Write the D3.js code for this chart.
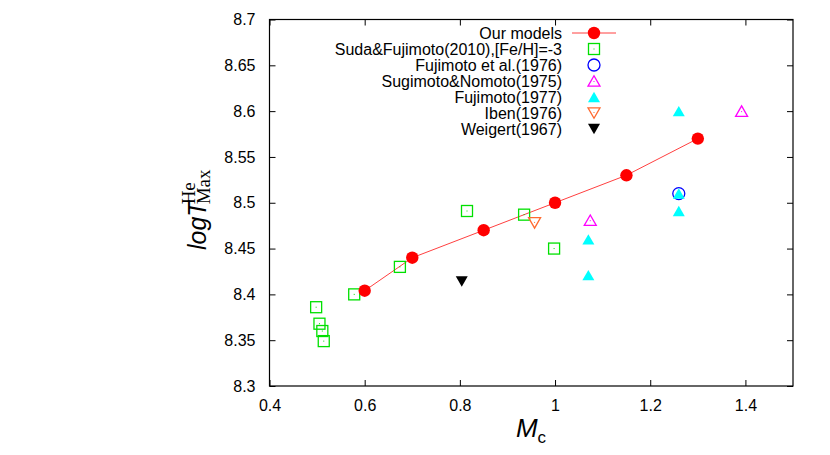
<!DOCTYPE html>
<html><head><meta charset="utf-8">
<script src="https://cdn.jsdelivr.net/npm/d3@7"></script>
<style>body{margin:0;background:#fff}svg{display:block}</style>
</head><body>
<svg id="c" width="830" height="455"></svg>
<script>
const xTicks = [0.4, 0.6, 0.8, 1.0, 1.2, 1.4];
const yTicks = [8.3, 8.35, 8.4, 8.45, 8.5, 8.55, 8.6, 8.65, 8.7];
const ourModelsM = [0.6, 0.7, 0.85, 1.0, 1.15, 1.3];
const ourModelsT = [8.404, 8.44, 8.47, 8.5, 8.53, 8.57];
const sudaM = [0.498, 0.505, 0.511, 0.514, 0.578, 0.674, 0.815, 0.935, 0.998];
const sudaT = [8.386, 8.368, 8.360, 8.349, 8.400, 8.430, 8.491, 8.487, 8.450];
const fuji76M = [1.26];
const fuji76T = [8.51];
const sugiM = [1.074, 1.392];
const sugiT = [8.481, 8.600];
const fuji77M = [1.07, 1.07, 1.26, 1.26, 1.26];
const fuji77T = [8.460, 8.421, 8.600, 8.510, 8.491];
const ibenM = [0.957];
const ibenT = [8.478];
const weigM = [0.804];
const weigT = [8.414];
const legendLabels = ["Our models", "Suda&Fujimoto(2010),[Fe/H]=-3", "Fujimoto et al.(1976)",
  "Sugimoto&Nomoto(1975)", "Fujimoto(1977)", "Iben(1976)", "Weigert(1967)"];

const svg = d3.select("#c");
const L = 269.5, R = 793, T = 19.5, B = 386;
const x = d3.scaleLinear().domain([0.4, 1.5]).range([L, R]);
const y = d3.scaleLinear().domain([8.3, 8.7]).range([B, T]);
const font = "'Liberation Sans', Arial, sans-serif";
const serif = "'Liberation Serif', 'Times New Roman', serif";

// axes with inward ticks
const tl = 6;
svg.append("g").attr("transform", `translate(0,${B})`)
  .call(d3.axisBottom(x).tickValues(xTicks).tickSize(-tl).tickPadding(tl + 8).tickFormat(d3.format("")))
  .call(g => g.select(".domain").remove());
svg.append("g").attr("transform", `translate(0,${T})`)
  .call(d3.axisTop(x).tickValues(xTicks).tickSize(-tl).tickFormat(""))
  .call(g => g.select(".domain").remove());
svg.append("g").attr("transform", `translate(${L},0)`)
  .call(d3.axisLeft(y).tickValues(yTicks).tickSize(-tl).tickPadding(tl + 8).tickFormat(d3.format("")))
  .call(g => g.select(".domain").remove());
svg.append("g").attr("transform", `translate(${R},0)`)
  .call(d3.axisRight(y).tickValues(yTicks).tickSize(-tl).tickFormat(""))
  .call(g => g.select(".domain").remove());
svg.selectAll(".tick line").attr("stroke", "#000").attr("stroke-width", 1);
svg.selectAll(".tick text").attr("font-family", font).attr("font-size", 16).attr("fill", "#000");

svg.append("rect").attr("x", L).attr("y", T).attr("width", R - L).attr("height", B - T)
  .attr("fill", "none").attr("stroke", "#000").attr("stroke-width", 1.2);

// series
const tri = (cx, cy, s, down) => {
  const h = s * 0.87, w = s / 2;
  return down ? `M${cx - w},${cy - h / 2}L${cx + w},${cy - h / 2}L${cx},${cy + h / 2}Z`
              : `M${cx - w},${cy + h / 2}L${cx + w},${cy + h / 2}L${cx},${cy - h / 2}Z`;
};
const zip = (a, b) => a.map((v, i) => [v, b[i]]);

const line = d3.line().x(d => x(d[0])).y(d => y(d[1]));
svg.append("path").datum(zip(ourModelsM, ourModelsT)).attr("d", line)
  .attr("fill", "none").attr("stroke", "#ff4040").attr("stroke-width", 1);

function drawSym(g, type, cx, cy) {
  if (type === "red") {
    g.append("circle").attr("cx", cx).attr("cy", cy).attr("r", 6.2).attr("fill", "#ff0000");
  } else if (type === "square") {
    g.append("rect").attr("x", cx - 5.5).attr("y", cy - 5.5).attr("width", 11).attr("height", 11)
      .attr("fill", "none").attr("stroke", "#00e000").attr("stroke-width", 1.3);
    g.append("rect").attr("x", cx - 0.5).attr("y", cy - 0.5).attr("width", 1).attr("height", 1).attr("fill", "#00e000");
  } else if (type === "circle") {
    g.append("circle").attr("cx", cx).attr("cy", cy).attr("r", 6)
      .attr("fill", "none").attr("stroke", "#0000ff").attr("stroke-width", 1.3);
  } else if (type === "upOpen") {
    g.append("path").attr("d", tri(cx, cy, 12, false)).attr("fill", "none").attr("stroke", "#ff00ff").attr("stroke-width", 1.3);
    g.append("rect").attr("x", cx - 0.5).attr("y", cy).attr("width", 1).attr("height", 1).attr("fill", "#ff00ff");
  } else if (type === "upFill") {
    g.append("path").attr("d", tri(cx, cy, 12, false)).attr("fill", "#00ffff");
  } else if (type === "downOpen") {
    g.append("path").attr("d", tri(cx, cy, 12, true)).attr("fill", "none").attr("stroke", "#ff6a30").attr("stroke-width", 1.3);
    g.append("rect").attr("x", cx - 0.5).attr("y", cy - 1).attr("width", 1).attr("height", 1).attr("fill", "#ff6a30");
  } else if (type === "downFill") {
    g.append("path").attr("d", tri(cx, cy, 12, true)).attr("fill", "#000");
  }
}
const series = [
  ["square", sudaM, sudaT],
  ["circle", fuji76M, fuji76T],
  ["upOpen", sugiM, sugiT],
  ["upFill", fuji77M, fuji77T],
  ["downOpen", ibenM, ibenT],
  ["downFill", weigM, weigT],
  ["red", ourModelsM, ourModelsT]
];
const gPts = svg.append("g");
series.forEach(([type, ms, ts]) => ms.forEach((m, i) => drawSym(gPts, type, x(m), y(ts[i]))));

// legend
const legTypes = ["red", "square", "circle", "upOpen", "upFill", "downOpen", "downFill"];
const lg = svg.append("g");
legendLabels.forEach((lab, i) => {
  const ly = 33 + i * 16;
  lg.append("text").attr("x", 562).attr("y", ly + 6).attr("text-anchor", "end")
    .attr("font-family", font).attr("font-size", 16).text(lab);
  if (i === 0) lg.append("line").attr("x1", 572).attr("x2", 616).attr("y1", ly).attr("y2", ly)
    .attr("stroke", "#ff4040").attr("stroke-width", 1);
  drawSym(lg, legTypes[i], 594, ly);
});

// x label
const xl = svg.append("text").attr("x", 531).attr("y", 437).attr("text-anchor", "middle")
  .attr("font-family", font).attr("font-size", 26);
xl.append("tspan").attr("font-style", "italic").text("M");
xl.append("tspan").attr("font-size", 17).attr("dy", 6).text("c");

// y label
const yg = svg.append("g").attr("transform", "translate(206,203) rotate(-90)");
const logT = yg.append("text").attr("x", -47).attr("y", 0).attr("font-family", font)
  .attr("font-size", 25).attr("font-style", "italic").text("logT");
const w = logT.node().getComputedTextLength();
const sx = -47 + w - 3;
yg.append("text").attr("x", sx).attr("y", -11).attr("font-family", serif)
  .attr("font-size", 19).text("He");
yg.append("text").attr("x", sx).attr("y", 4).attr("font-family", serif)
  .attr("font-size", 19).text("Max");
</script>
</body></html>
